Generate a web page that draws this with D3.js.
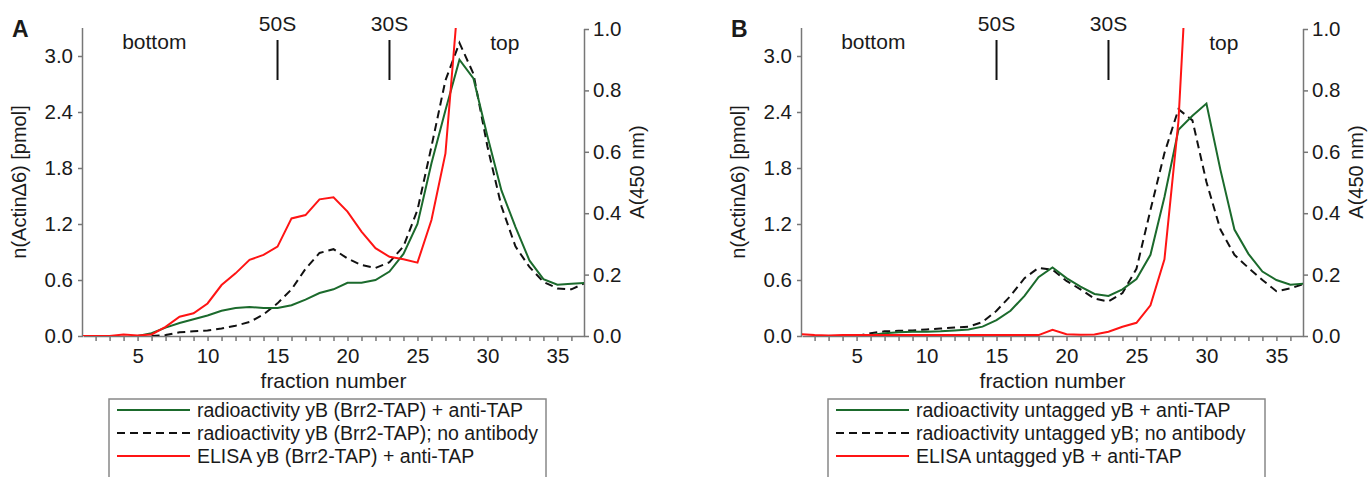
<!DOCTYPE html>
<html>
<head>
<meta charset="utf-8">
<script src="https://cdn.jsdelivr.net/npm/d3@7"></script>
<style>
  body { margin: 0; background: #fff; }
  text { font-family: "Liberation Sans", Arial, Helvetica, sans-serif; fill: #1a1a1a; }
</style>
</head>
<body>
<script>
// fraction numbers 1..37
const fractions = [1,2,3,4,5,6,7,8,9,10,11,12,13,14,15,16,17,18,19,20,
                   21,22,23,24,25,26,27,28,29,30,31,32,33,34,35,36,37];

// panel A, n(ActinΔ6) [pmol]
const greenA = [null,null,null,null,0.00,0.03,0.09,0.14,0.18,0.22,0.27,0.30,0.31,0.30,0.30,0.33,0.39,0.46,0.50,0.57,
                0.57,0.60,0.69,0.88,1.20,1.85,2.42,2.96,2.76,2.14,1.56,1.17,0.81,0.61,0.55,0.56,0.57];
const dashA  = [null,null,null,null,null,0.00,0.01,0.04,0.05,0.06,0.08,0.11,0.15,0.23,0.35,0.50,0.72,0.89,0.93,0.83,
                0.76,0.73,0.79,0.96,1.35,2.03,2.74,3.14,2.81,2.03,1.39,0.96,0.74,0.58,0.51,0.50,0.57];
// panel A, ELISA A(450 nm)
const redA   = [0,0,0,0.005,0.002,0.005,0.03,0.063,0.074,0.106,0.166,0.204,0.248,0.264,0.291,0.383,0.394,0.445,0.452,0.405,
                0.34,0.286,0.258,0.25,0.239,0.378,0.595,1.15,null,null,null,null,null,null,null,null,null];

// panel B
const greenB = [null,null,null,null,0.00,0.01,0.03,0.04,0.045,0.046,0.05,0.06,0.07,0.10,0.17,0.27,0.43,0.63,0.735,0.62,
                0.53,0.45,0.43,0.50,0.61,0.87,1.49,2.21,2.36,2.49,1.78,1.14,0.88,0.69,0.60,0.55,0.56];
const dashB  = [null,null,null,null,0.00,0.03,0.05,0.055,0.06,0.07,0.08,0.09,0.10,0.15,0.27,0.43,0.62,0.73,0.71,0.59,
                0.50,0.40,0.37,0.46,0.72,1.35,1.96,2.43,2.31,1.65,1.14,0.87,0.73,0.60,0.48,0.51,0.56];
const redB   = [0.006,0.003,0.002,0.003,0.003,0.003,0.003,0.003,0.003,0.003,0.003,0.003,0.003,0.003,0.003,0.003,0.003,0.003,0.02,0.006,
                0.004,0.005,0.014,0.03,0.043,0.10,0.25,0.70,1.55,null,null,null,null,null,null,null,null];

const leftTicks = [0, 0.6, 1.2, 1.8, 2.4, 3.0];
const rightTicks = [0, 0.2, 0.4, 0.6, 0.8, 1.0];
const legendA = ["radioactivity yB (Brr2-TAP) + anti-TAP", "radioactivity yB (Brr2-TAP); no antibody", "ELISA yB (Brr2-TAP) + anti-TAP"];
const legendB = ["radioactivity untagged yB + anti-TAP", "radioactivity untagged yB; no antibody", "ELISA untagged yB + anti-TAP"];
const markers = ["50S", "30S"];
const markerAt = [15, 23];

const GREEN = "#1b6a2c", RED = "#ff1414", BLACK = "#111", AXIS = "#777";

var svg = d3.select("body").append("svg")
  .attr("width", 1368)
  .attr("height", 477);

function drawPanel(id, letter, left, green, dash, red, legend) {
  var top = 28, bottom = 336, width = 501;
  var g = svg.append("g");

  var x = d3.scaleLinear().domain([1.1, 36.9]).range([left, left + width]);
  var yL = d3.scaleLinear().domain([0, 3.3]).range([bottom, top]);
  var yR = d3.scaleLinear().domain([0, 1]).range([bottom, top + 1]);

  svg.append("clipPath").attr("id", "clip" + id)
    .append("rect").attr("x", left).attr("y", top).attr("width", width).attr("height", bottom - top);

  // axes
  var ax = g.append("g")
    .attr("transform", "translate(0," + bottom + ")")
    .call(d3.axisBottom(x).tickValues(fractions.filter(d => d > 1 && d < 37))
      .tickFormat(d => d % 5 === 0 ? d : "").tickSize(5).tickSizeOuter(0).tickPadding(7));
  var al = g.append("g")
    .attr("transform", "translate(" + left + ",0)")
    .call(d3.axisLeft(yL).tickValues(leftTicks).tickFormat(d3.format(".1f")).tickSize(5).tickSizeOuter(0).tickPadding(5));
  var ar = g.append("g")
    .attr("transform", "translate(" + (left + width) + ",0)")
    .call(d3.axisRight(yR).tickValues(rightTicks).tickFormat(d3.format(".1f")).tickSize(5).tickSizeOuter(0).tickPadding(4));
  [ax, al, ar].forEach(function(a) {
    a.attr("font-size", 20.5).attr("font-family", null);
    a.selectAll("path, line").attr("stroke", AXIS).attr("stroke-width", 1.5);
    a.selectAll("text").attr("fill", "#1a1a1a");
  });
  al.select(".domain").attr("d", "M-0.5," + bottom + "V" + top);
  ar.select(".domain").attr("d", "M0.5," + bottom + "V" + (top + 1));

  // axis titles
  g.append("text").attr("x", x(19)).attr("y", 388).attr("text-anchor", "middle")
    .attr("font-size", 21).text("fraction number");
  g.append("text").attr("transform", "translate(" + (left - 57) + "," + 182 + ") rotate(-90)")
    .attr("text-anchor", "middle").attr("font-size", 20).text("n(ActinΔ6) [pmol]");
  g.append("text").attr("transform", "translate(" + (left + width + 60) + "," + 172 + ") rotate(-90)")
    .attr("text-anchor", "middle").attr("font-size", 20).text("A(450 nm)");

  // panel letter
  g.append("text").attr("x", left - 71).attr("y", 37).attr("font-size", 23).attr("font-weight", "bold").text(letter);

  // gradient annotations
  g.append("text").attr("x", x(3.9)).attr("y", 49).attr("font-size", 21).text("bottom");
  g.append("text").attr("x", x(30.2)).attr("y", 50).attr("font-size", 21).text("top");
  markers.forEach(function(m, i) {
    g.append("text").attr("x", x(markerAt[i])).attr("y", 31).attr("text-anchor", "middle")
      .attr("font-size", 21).text(m);
    g.append("line").attr("x1", x(markerAt[i])).attr("x2", x(markerAt[i]))
      .attr("y1", 40).attr("y2", 80).attr("stroke", BLACK).attr("stroke-width", 2);
  });

  // series
  var plot = g.append("g").attr("clip-path", "url(#clip" + id + ")");
  var lineL = d3.line().defined((d, i) => d != null).x((d, i) => x(fractions[i])).y(d => yL(d));
  var lineR = d3.line().defined((d, i) => d != null).x((d, i) => x(fractions[i])).y(d => yR(d));

  plot.append("path").datum(dash)
    .attr("fill", "none").attr("stroke", BLACK).attr("stroke-width", 2)
    .attr("stroke-dasharray", "8,5").attr("d", lineL);
  plot.append("path").datum(green)
    .attr("fill", "none").attr("stroke", GREEN).attr("stroke-width", 2).attr("d", lineL);
  plot.append("path").datum(red)
    .attr("fill", "none").attr("stroke", RED).attr("stroke-width", 2).attr("d", lineR);

  // legend
  var lx = left + 26, ly = 399;
  g.append("rect").attr("x", lx).attr("y", ly).attr("width", 437).attr("height", 100)
    .attr("fill", "none").attr("stroke", "#888").attr("stroke-width", 1.5);
  var styles = [{c: GREEN, d: null}, {c: BLACK, d: "8,5"}, {c: RED, d: null}];
  legend.forEach(function(t, i) {
    var yy = ly + 11 + i * 23;
    g.append("line").attr("x1", lx + 8).attr("x2", lx + 81).attr("y1", yy).attr("y2", yy)
      .attr("stroke", styles[i].c).attr("stroke-width", 2).attr("stroke-dasharray", styles[i].d);
    g.append("text").attr("x", lx + 88).attr("y", yy + 7).attr("font-size", 19.5).text(t);
  });
}

drawPanel("A", "A", 83, greenA, dashA, redA, legendA);
drawPanel("B", "B", 802, greenB, dashB, redB, legendB);
</script>
</body>
</html>
